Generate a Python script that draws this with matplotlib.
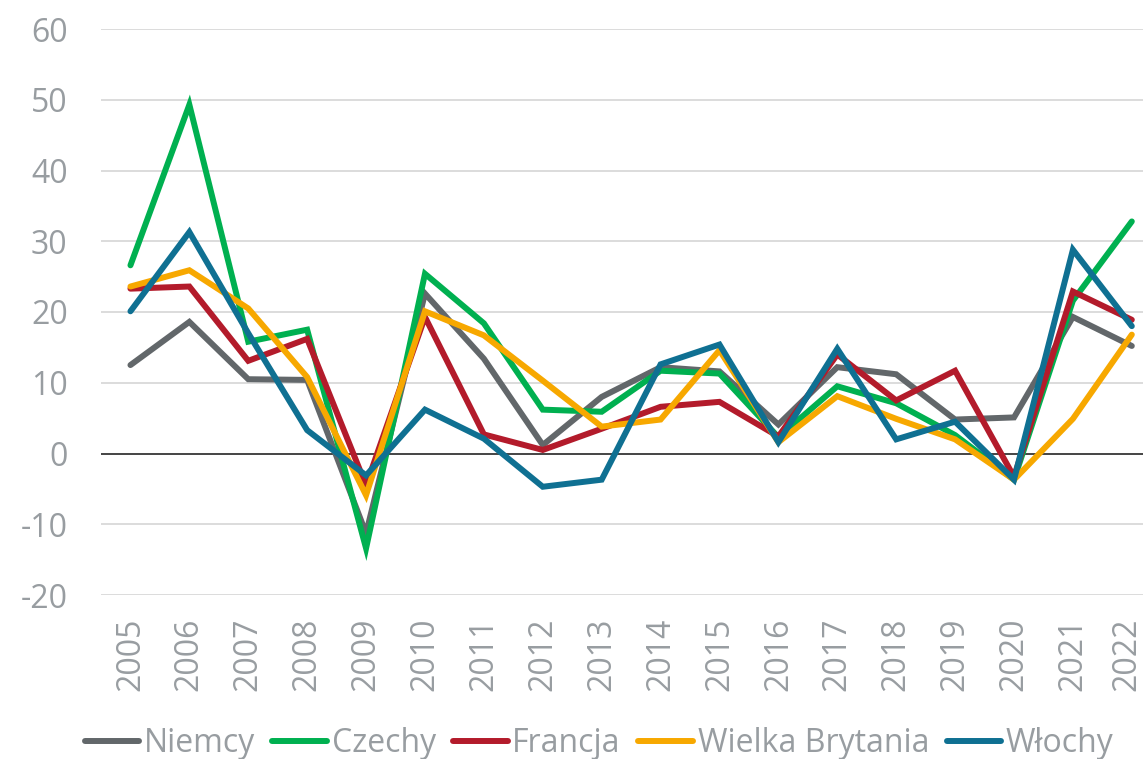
import numpy as np
import matplotlib.pyplot as plt
import matplotlib.transforms as mtransforms

# Palette
TEXT_GRAY = "#989da1"
GRIDLINE = "#d9d9d9"
ZERO_LINE = "#3a3a3a"

years = list(range(2005, 2023))

niemcy = [12.5, 18.6, 10.5, 10.4, -11.3, 22.6, 13.4, 1.2, 8.0, 12.2,
          11.6, 4.1, 12.2, 11.2, 4.8, 5.1, 19.3, 15.2]
czechy = [26.6, 49.3, 15.8, 17.5, -13.4, 25.4, 18.4, 6.2, 5.9, 11.7,
          11.3, 2.3, 9.5, 7.1, 2.6, -3.7, 21.6, 32.8]
francja = [23.3, 23.6, 13.1, 16.2, -4.5, 19.3, 2.7, 0.5, 3.5, 6.6,
           7.3, 2.4, 14.0, 7.5, 11.7, -3.3, 22.9, 18.9]
wielka_brytania = [23.6, 25.9, 20.5, 10.8, -5.9, 20.1, 16.7, 10.3, 3.8, 4.8,
                   14.6, 1.6, 8.1, 4.9, 2.0, -3.7, 4.9, 16.8]
wlochy = [20.1, 31.3, 17.0, 3.3, -3.1, 6.2, 2.1, -4.7, -3.7, 12.6,
          15.4, 1.6, 14.8, 2.0, 4.5, -3.7, 28.8, 18.0]

series = [
    ("Niemcy", niemcy, "#62676a"),
    ("Czechy", czechy, "#00b050"),
    ("Francja", francja, "#b31b2b"),
    ("Wielka Brytania", wielka_brytania, "#f7a800"),
    ("Włochy", wlochy, "#0f7092"),
]
y_ticks = [-20, -10, 0, 10, 20, 30, 40, 50, 60]

plt.rcParams["font.family"] = ["Open Sans", "DejaVu Sans"]
plt.rcParams["axes.unicode_minus"] = False

fig = plt.figure(figsize=(11.43, 7.59), dpi=100)
fig.patch.set_facecolor("white")
ax = fig.add_axes([101 / 1143, 164 / 759, 1042 / 1143, 566 / 759])
ax.set_facecolor("white")

for name, values, color in series:
    ax.plot(years, values, color=color, linewidth=4.3, label=name,
            solid_joinstyle="miter", solid_capstyle="round", zorder=3)

ax.axhline(0, color=ZERO_LINE, linewidth=1.3, zorder=2)

ax.set_xlim(2004.5, 2022.19)
ax.set_ylim(-20, 60)
ax.set_yticks(y_ticks)
ax.set_xticks(years)
ax.set_xticklabels([str(y) for y in years], rotation=90)
ax.grid(True, axis="y", color=GRIDLINE, linewidth=1.3, zorder=0)
ax.set_axisbelow(True)
for spine in ax.spines.values():
    spine.set_visible(False)
ax.tick_params(axis="both", length=0, labelsize=23, colors=TEXT_GRAY)
ax.tick_params(axis="y", pad=24)
ax.tick_params(axis="x", pad=16)

# last year label sits right at the edge, nudge it in a touch
last = ax.get_xticklabels()[-1]
last.set_transform(last.get_transform() + mtransforms.ScaledTranslation(-5 / 100, 0, fig.dpi_scale_trans))

leg = fig.legend(loc="center", bbox_to_anchor=(599 / 1143, 1 - 744 / 759),
                 ncol=5, frameon=False, fontsize=23, handlelength=1.7,
                 handletextpad=0.15, columnspacing=0.55, borderpad=0)
for text in leg.get_texts():
    text.set_color(TEXT_GRAY)

fig.savefig("out.png", dpi=100, facecolor="white")
